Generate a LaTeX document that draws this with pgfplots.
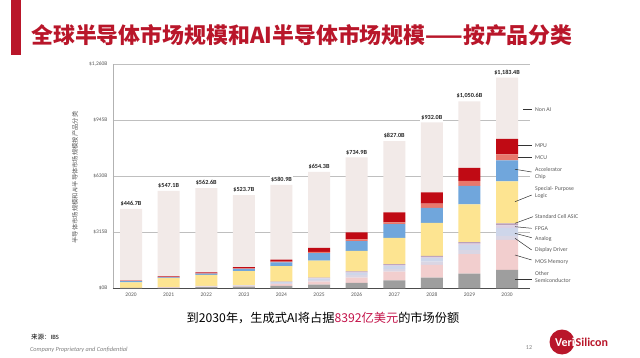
\documentclass[border=0pt]{standalone}
\usepackage{pgfplots}
\pgfplotsset{compat=1.18}
\usepackage{pgfplotstable}
\usepackage{fontspec}
\setmainfont{Carlito}
\newfontfamily\cjk{Noto Sans CJK SC}
\definecolor{cOther}{RGB}{158,158,158}
\definecolor{cMOS}{RGB}{242,206,206}
\definecolor{cDisp}{RGB}{218,214,228}
\definecolor{cAnalog}{RGB}{206,214,234}
\definecolor{cFPGA}{RGB}{220,208,228}
\definecolor{cASIC}{RGB}{186,160,186}
\definecolor{cSPL}{RGB}{253,228,145}
\definecolor{cAcc}{RGB}{112,166,220}
\definecolor{cMCU}{RGB}{232,120,108}
\definecolor{cMPU}{RGB}{192,10,20}
\definecolor{cNon}{RGB}{242,234,232}
\definecolor{titlered}{RGB}{185,22,42}
\definecolor{txtgray}{RGB}{90,90,90}
\pgfplotstableread{
year other mos display analog fpga asic spl acc mcu mpu nonai
2020 2 1 0 0 0 0 30 7 1 2 403.7
2021 3 2 0.5 0.5 0 0 51 4 2 4 480.1
2022 6 4 1.5 1.5 0 0 63 6 2 5 473.6
2023 10 4 2 2 0 0 79 12 3 7 404.7
2024 14 10 5 5 2 2 86 21 5 11 419.9
2025 20 18 8 8 3 3 95 43 6 23 427.3
2026 30 30 14 12 5 4 115 55 10 39 420.9
2027 44 50 15 17 5 5 147 77 11 55 401.0
2028 60 72 18 20 6 6 185 85 24 63 393.0
2029 82 110 22 28 9 9 211 105 27 74 373.6
2030 103 169 22 45 14 12 235 118 34 87 344.4
}\datatable
\begin{document}
\begin{tikzpicture}
\fill[white] (0pt,0pt) rectangle (640pt,-358pt);
\fill[titlered] (11pt,0pt) rectangle (21pt,-55pt);
\node[anchor=west, text=titlered, inner sep=0pt] at (31pt,-35pt) {\cjk\bfseries\fontsize{21.9}{24}\selectfont 全球半导体市场规模和AI半导体市场规模——按产品分类};
\begin{axis}[
  at={(113pt,-288.3pt)}, anchor=south west,
  scale only axis, width=417pt, height=224.3pt,
  ybar stacked, bar width=22pt,
  xmin=2019.52, xmax=2030.61, ymin=0, ymax=1260,
  xtick={2020,2021,2022,2023,2024,2025,2026,2027,2028,2029,2030},
  xticklabels={2020,2021,2022,2023,2024,2025,2026,2027,2028,2029,2030},
  xticklabel style={font=\fontsize{5.5}{6}\selectfont, text=txtgray, yshift=-1pt},
  ytick={0,315,630,945,1260},
  yticklabels={\$0B,\$315B,\$630B,\$945B,{\$1,260B}},
  yticklabel style={font=\fontsize{5.5}{6}\selectfont, text=txtgray, xshift=-2pt},
  ymajorgrids, grid style={gray!50, line width=0.5pt},
  axis x line*=bottom, axis y line*=left,
  x axis line style={black!70, line width=0.6pt},
  y axis line style={gray!60, line width=0.5pt},
  major tick length=0pt,
  ylabel={\cjk 半导体市场规模和AI半导体市场规模按产品分类},
  ylabel style={at={(axis description cs:-0.091,0.494)}, anchor=center, font=\fontsize{6.3}{7}\selectfont, text=txtgray},
  every axis plot/.append style={draw=none},
  clip=false,
]
\addplot[fill=cOther] table[x=year,y=other]{\datatable};
\addplot[fill=cMOS] table[x=year,y=mos]{\datatable};
\addplot[fill=cDisp] table[x=year,y=display]{\datatable};
\addplot[fill=cAnalog] table[x=year,y=analog]{\datatable};
\addplot[fill=cFPGA] table[x=year,y=fpga]{\datatable};
\addplot[fill=cASIC] table[x=year,y=asic]{\datatable};
\addplot[fill=cSPL] table[x=year,y=spl]{\datatable};
\addplot[fill=cAcc] table[x=year,y=acc]{\datatable};
\addplot[fill=cMCU] table[x=year,y=mcu]{\datatable};
\addplot[fill=cMPU] table[x=year,y=mpu]{\datatable};
\addplot[fill=cNon] table[x=year,y=nonai]{\datatable};
\tikzset{lbl/.style={anchor=south, yshift=1.5pt, inner sep=1pt, fill=white, font=\fontsize{6.2}{7}\selectfont\bfseries, text=black!85}}
\node[lbl] at (axis cs:2020,446.7) {\$446.7B};
\node[lbl] at (axis cs:2021,547.1) {\$547.1B};
\node[lbl] at (axis cs:2022,562.6) {\$562.6B};
\node[lbl] at (axis cs:2023,523.7) {\$523.7B};
\node[lbl] at (axis cs:2024,580.9) {\$580.9B};
\node[lbl] at (axis cs:2025,654.3) {\$654.3B};
\node[lbl] at (axis cs:2026,734.9) {\$734.9B};
\node[lbl] at (axis cs:2027,827.0) {\$827.0B};
\node[lbl] at (axis cs:2028,932.0) {\$932.0B};
\node[lbl] at (axis cs:2029,1050.6) {\$1,050.6B};
\node[lbl] at (axis cs:2030,1183.4) {\$1,183.4B};
\node[lbl] at (axis cs:2020,43) {\$43B};
\node[lbl] at (axis cs:2021,67) {\$67B};
\node[lbl] at (axis cs:2022,89) {\$89B};
\node[lbl] at (axis cs:2023,119) {\$119B};
\node[lbl] at (axis cs:2024,161) {\$161B};
\node[lbl] at (axis cs:2025,227) {\$227B};
\node[lbl] at (axis cs:2026,314) {\$314B};
\node[lbl] at (axis cs:2027,426) {\$426B};
\node[lbl] at (axis cs:2028,539) {\$539B};
\node[lbl] at (axis cs:2029,677) {\$677B};
\node[lbl] at (axis cs:2030,839) {\$839B};
\end{axis}
\begin{scope}[x=1pt, y=-1pt, font=\fontsize{5.8}{6.8}\selectfont, every node/.style={text=txtgray, inner sep=0pt, anchor=west, align=left}]
\draw[black!80, line width=0.5pt] (523,109.3)--(532,109.3);
\node at (535,109.3) {Non AI};
\draw[black!80, line width=0.5pt] (518,145.7)--(532,145.7);
\node at (535,145.7) {MPU};
\draw[black!80, line width=0.5pt] (518,157.7)--(532,157.7);
\node at (535,157.7) {MCU};
\draw[black!80, line width=0.5pt] (515,169.3)--(531.7,172);
\node at (535,173.5) {Accelerator\\Chip};
\draw[black!80, line width=0.5pt] (515,201.7)--(531.7,195);
\node at (535,192.5) {Special- Purpose\\Logic};
\draw[black!80, line width=0.5pt] (515,223.3)--(533,216.7);
\node at (535,217) {Standard Cell ASIC};
\draw[black!80, line width=0.5pt] (515,226.7)--(531.7,228.3);
\node at (535,228.3) {FPGA};
\draw[black!80, line width=0.5pt] (515,233.3)--(531.7,237.7);
\node at (535,238.7) {Analog};
\draw[black!80, line width=0.5pt] (515,238.3)--(531.7,250);
\node at (535,250.3) {Display Driver};
\draw[black!80, line width=0.5pt] (515,255)--(531.7,260);
\node at (535,262) {MOS Memory};
\draw[black!80, line width=0.5pt] (515,279)--(531.7,279);
\node at (535,277) {Other\\Semiconductor};
\end{scope}
\begin{scope}[x=1pt, y=-1pt]
\node[anchor=center, inner sep=0pt] at (323,318) {\cjk\fontsize{12.2}{14}\selectfont 到2030年，生成式AI将占据\textcolor{titlered!85!magenta}{8392亿美元}的市场份额};
\node[anchor=west, inner sep=0pt] at (31,337) {\cjk\fontsize{6.5}{7}\selectfont\itshape 来源：\normalfont\fontsize{6.5}{7}\selectfont IBS};
\node[anchor=west, inner sep=0pt, text=gray] at (30,350) {\fontsize{6.3}{7}\selectfont\itshape Company Proprietary and Confidential};
\node[anchor=center, inner sep=0pt, text=gray] at (529,348) {\fontsize{6}{7}\selectfont 12};
\fill[titlered] (562,342) circle (12.5);
\node[anchor=east, inner sep=0pt, text=white] at (575,342) {\fontsize{12}{13}\selectfont\bfseries Veri};
\node[anchor=west, inner sep=0pt, text=titlered] at (575.5,342) {\fontsize{12}{13}\selectfont\bfseries Silicon};
\end{scope}
\pgfresetboundingbox
\path[use as bounding box] (0pt,0pt) rectangle (640pt,-358pt);
\end{tikzpicture}
\end{document}
